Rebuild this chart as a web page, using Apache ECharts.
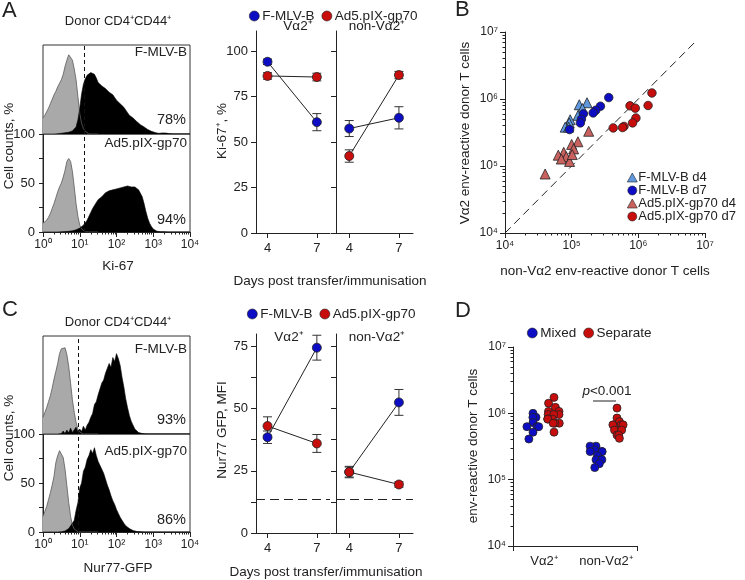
<!DOCTYPE html>
<html>
<head>
<meta charset="utf-8">
<script src="https://cdn.jsdelivr.net/npm/echarts@6/dist/echarts.min.js"></script>
<style>
  html, body { margin: 0; padding: 0; background: #fff; }
  #chart { width: 745px; height: 580px; }
</style>
</head>
<body>
<div id="chart"></div>
<script>
const FONT = 'Liberation Sans, Arial, Helvetica, sans-serif';

// ---- histograms: % of max, bins every 0.05 log10 units starting at 10^0 ----
const histStep = 0.05;
const kiTopGrey = [18,21,25,29,34,39,44,48,53,57,61,67,76,83,89,90,83,73,61,42,23,12,6,3,1,0,0,0,0,0,0];
const kiTopBlack = [0,0,0,0,0,0,0,0,0.3,0.5,0.8,1,1.3,1.6,2,2.6,3.5,5,8,16,29,45,56,62,66,65,69,70,67,63,
  58,57,54,53,51,50,47,45,44,41,38,37,34,32,30,27,24,21,20,18,16,14,12,10.5,9,8,6.5,5,4,3,
  2.4,1.6,1,0.7,0.6,1.2,1.8,1,0.4,0.2,0,0,0,0,0,0,0,0,0,0,0];
const kiBotGrey = [9,10,12,15,19,24,29,35,41,46,50,56,63,72,75,72,62,46,29,16,7,3,1,0.3,0,0,0,0,0,0,0];
const kiBotBlack = [0,0,0,0,0,0,0,0,0,0,0.2,0.3,0.4,0.5,0.7,0.9,1.2,1.6,2.2,3,4,5.5,7,9.5,12,16,20,24,27,30,
  33,35,36,38,40,39,42,41,43,42,44,42,45,43,46,44,47,45,46,44,46,44,43,42,36,29,21,14,9,5.5,
  3,1.5,0.8,0.5,0.3,0.2,0.2,0.1,0,0,0,0,0,0,0,0,0,0,0,0,0];
const nurTopGrey = [17,22,27,33,39,47,56,64,72,82,87,89,88,81,69,52,35,22,12,5,2,0.5,0,0,0,0,0,0,0,0,0];
const nurTopBlack = [0,0,0,0,0,0,0,0,0,0,0.5,3,0.5,4,1,6,1.5,3,7,2,5,2.5,8,4,9,12,17,21,30,33,
  40,42,52,55,62,64,72,68,78,74,82,77,70,58,48,36,27,19,13,9,5,3,1.5,1,0.5,0,0,0,0,0,
  0,0,0,0,0,0,0,0,0,0,0,0,0,0,0,0,0,0,0,0,0];
const nurBotGrey = [16,21,26,33,40,48,57,71,78,83,81,76,64,47,30,16,7,3,1,0.3,0,0,0,0,0,0,0,0,0,0,0];
const nurBotBlack = [0,0,0,0,0,0,0,0,0,0,0.3,0.6,1,2,3.5,5,9,12,22,30,45,50,62,66,74,78,84,80,86,78,
  72,70,64,60,54,48,43,37,32,28,23,19,15,12,9,6.5,5,3.5,2.5,1.5,1,0.6,0.4,0.3,0,0,0,0,0,0,
  0,0,0,0,0,0,0,0,0,0,0,0,0,0,0,0,0,0,0,0,0];
const kiCutoff = 13;
const nurCutoff = 9;

// ---- time courses (mean, SEM) at days 4 and 7 ----
const days = [4, 7];
const kiVaFmlv = [94.1, 60.9],  kiVaFmlvErr = [1.5, 4.7];
const kiVaAd5 = [86.3, 85.7],   kiVaAd5Err = [1.8, 2.1];
const kiNonFmlv = [57.4, 63.3], kiNonFmlvErr = [4.4, 6.1];
const kiNonAd5 = [42.3, 86.8],  kiNonAd5Err = [3.4, 2.0];
const nurVaFmlv = [38.5, 74.5], nurVaFmlvErr = [2.5, 5.0];
const nurVaAd5 = [43.0, 36.0],  nurVaAd5Err = [3.7, 3.6];
const nurNonFmlv = [24.5, 52.5], nurNonFmlvErr = [2.0, 5.2];
const nurNonAd5 = [24.5, 19.5], nurNonAd5Err = [2.3, 1.1];
const nurBaseline = 13.5;

// ---- panel B: [non-Va2, Va2] env-reactive donor T cells ----
const fmlvD4 = [[1.7e5,8.8e5],[1.3e5,8.2e5],[1.45e5,7.2e5],[1.25e5,5.7e5],[0.95e5,4.9e5],[0.92e5,4.4e5],[0.8e5,3.8e5],[0.9e5,3.8e5]];
const fmlvD7 = [[3.6e5,1.05e6],[2.7e5,7.8e5],[2.3e5,6.8e5],[2.1e5,6.2e5],[1.5e5,6.0e5],[1.4e5,5.0e5],[1.35e5,4.4e5],[0.93e5,3.5e5]];
const ad5D4 = [[1.8e5,3.3e5],[1.24e5,2.3e5],[1.0e5,2.1e5],[1.07e5,1.8e5],[7.6e4,1.6e5],[6.3e4,1.45e5],[8.3e4,1.38e5],[7.0e4,1.27e5],[9.3e4,1.17e5],[1.02e5,1.48e5],[4.0e4,7.6e4]];
const ad5D7 = [[1.6e6,1.23e6],[1.4e6,8.0e5],[7.5e5,7.9e5],[9.0e5,7.3e5],[9.2e5,5.2e5],[8.2e5,4.4e5],[6.1e5,3.9e5],[5.8e5,3.75e5],[4.2e5,3.7e5]];
const identity = [1e4, 7e6];

// ---- panel D ----
const dCats = ['Vα2⁺', 'non-Vα2⁺'];
const dSlots = ['Vα2⁺ Mixed', 'Vα2⁺ Separate', '', 'non-Vα2⁺ Mixed', 'non-Vα2⁺ Separate'];
const dVaMixed = [1.0e6, 8.7e5, 8.7e5, 7.3e5, 6.3e5, 6.3e5, 6.3e5, 5.2e5, 4.1e5];
const dVaSeparate = [1.74e6, 1.42e6, 1.23e6, 1.07e6, 1.07e6, 9.6e5, 9.6e5, 9.6e5, 8.2e5, 8.2e5, 8.2e5, 7.1e5, 7.1e5, 7.1e5, 5.2e5];
const dNonMixed = [3.2e5, 3.2e5, 2.8e5, 2.65e5, 2.65e5, 2.65e5, 2.3e5, 2.0e5, 2.0e5, 1.74e5, 1.52e5];
const dNonSeparate = [1.2e6, 8.5e5, 7.5e5, 6.7e5, 6.7e5, 6.7e5, 5.6e5, 5.6e5, 5.6e5, 4.7e5, 4.7e5, 4.2e5];

const BLUE = '#0d0dc4', RED = '#c80d0d', LBLUE = '#5f98dc', LRED = '#c9615f';
const INK = '#222';

const sup = ['⁰', '¹', '²', '³', '⁴', '⁵', '⁶', '⁷'];
const powLabel = v => '10' + sup[Math.round(Math.log10(v))];
function decadesFrom(a, b) { const o = []; for (let e = a; e <= b; e++) o.push(Math.pow(10, e)); return o; }
function minorFrom(a, b) { const o = []; for (let e = a; e < b; e++) for (let k = 2; k <= 9; k++) o.push(k * Math.pow(10, e)); return o; }

const lineSt = { color: INK, width: 1 };
const lab = (size) => ({ color: INK, fontFamily: FONT, fontSize: size });

const grids = [
  { left: 43, top: 45, width: 147, height: 89 },   // 0 A hist top
  { left: 43, top: 134, width: 147, height: 98 },  // 1 A hist bottom
  { left: 256, top: 31, width: 74, height: 202 },  // 2 A Va2
  { left: 336, top: 31, width: 77, height: 202 },  // 3 A non-Va2
  { left: 505, top: 32, width: 200, height: 201 }, // 4 B
  { left: 43, top: 336, width: 147, height: 98 },  // 5 C hist top
  { left: 43, top: 434, width: 147, height: 98 },  // 6 C hist bottom
  { left: 256, top: 334, width: 74, height: 199 }, // 7 C Va2
  { left: 336, top: 334, width: 77, height: 199 }, // 8 C non-Va2
  { left: 513, top: 347, width: 124, height: 199 },// 9 D axes
  { left: 522.5, top: 347, width: 105, height: 199 } // 10 D points
].map((g, i) => Object.assign({ containLabel: false }, g,
  (i === 0 || i === 1 || i === 5 || i === 6) ? { show: true, borderColor: '#333', borderWidth: 1 } : {}));

function logMajor(dim, gridIndex, a, b, extra) {
  const vals = decadesFrom(a, b);
  return Object.assign({
    type: 'log', logBase: 10, gridIndex, min: Math.pow(10, a), max: Math.pow(10, b),
    position: dim === 'x' ? 'bottom' : 'left',
    axisLine: { show: true, lineStyle: lineSt },
    axisTick: { show: true, length: 5, lineStyle: lineSt, customValues: vals },
    axisLabel: Object.assign(lab(12), { customValues: vals, formatter: powLabel, margin: 7 }),
    splitLine: { show: false }, minorTick: { show: false }
  }, extra || {});
}
function logMinor(dim, gridIndex, a, b) {
  return {
    type: 'log', logBase: 10, gridIndex, min: Math.pow(10, a), max: Math.pow(10, b),
    position: dim === 'x' ? 'bottom' : 'left',
    axisLine: { show: false },
    axisTick: { show: true, length: 2.5, lineStyle: lineSt, customValues: minorFrom(a, b) },
    axisLabel: { show: false }, splitLine: { show: false }
  };
}
function hidden(type, gridIndex, min, max) {
  return { type, gridIndex, min, max, show: false, logBase: 10 };
}
function dayAxis(gridIndex, min, max) {
  return {
    type: 'value', gridIndex, min, max, position: 'bottom',
    axisLine: { show: true, onZero: false, lineStyle: lineSt },
    axisTick: { show: true, length: 5, lineStyle: lineSt, customValues: days },
    axisLabel: Object.assign(lab(13), { customValues: days, margin: 9 }),
    splitLine: { show: false }
  };
}
function valAxis(gridIndex, max, ticks, labels, tickLen) {
  return {
    type: 'value', gridIndex, min: 0, max, position: 'left',
    axisLine: { show: true, lineStyle: lineSt },
    axisTick: { show: true, length: tickLen || 5, lineStyle: lineSt, customValues: ticks },
    axisLabel: labels ? Object.assign(lab(13), { customValues: labels, margin: 8 }) : { show: false },
    splitLine: { show: false }
  };
}

const xAxis = [
  hidden('log', 0, 1, 10000),                  // 0
  logMajor('x', 1, 0, 4),                      // 1
  logMinor('x', 1, 0, 4),                      // 2
  dayAxis(2, 3.3, 7.8),                        // 3
  dayAxis(3, 3.2, 7.85),                       // 4
  logMajor('x', 4, 4, 7),                      // 5
  logMinor('x', 4, 4, 7),                      // 6
  hidden('log', 5, 1, 10000),                  // 7
  logMajor('x', 6, 0, 4),                      // 8
  logMinor('x', 6, 0, 4),                      // 9
  dayAxis(7, 3.3, 7.8),                        // 10
  dayAxis(8, 3.2, 7.85),                       // 11
  { type: 'category', gridIndex: 9, data: dCats, position: 'bottom',
    axisLine: { show: true, lineStyle: lineSt },
    axisTick: { show: true, length: 5, lineStyle: lineSt, interval: (i) => i === 1 },
    axisLabel: Object.assign(lab(13), { margin: 9, interval: 0 }) },   // 12
  { type: 'category', gridIndex: 10, data: dSlots, show: false,
    jitter: 24, jitterOverlap: false, jitterMargin: 0 }  // 13
];
const yAxis = [
  hidden('value', 0, 0, 100),                                  // 0
  valAxis(1, 100, [0, 25, 50, 75, 100], [0, 50, 100], 4),      // 1
  valAxis(2, 111, [0, 25, 50, 75, 100], [0, 25, 50, 75, 100]), // 2
  valAxis(3, 111, [0, 25, 50, 75, 100], null),                 // 3
  logMajor('y', 4, 4, 7),                                      // 4
  logMinor('y', 4, 4, 7),                                      // 5
  hidden('value', 5, 0, 100),                                  // 6
  valAxis(6, 100, [0, 25, 50, 75, 100], [0, 50, 100], 4),      // 7
  valAxis(7, 80, [0, 12.5, 25, 37.5, 50, 62.5, 75], [0, 25, 50, 75]), // 8
  valAxis(8, 80, [0, 12.5, 25, 37.5, 50, 62.5, 75], null),     // 9
  logMajor('y', 9, 4, 7),                                      // 10
  logMinor('y', 9, 4, 7),                                      // 11
  hidden('log', 10, 1e4, 1e7)                                  // 12
];

const series = [];

function histSeries(vals, xi, yi, neg, cut) {
  const s = {
    type: 'line', xAxisIndex: xi, yAxisIndex: yi, silent: true, symbol: 'none',
    data: vals.map((v, i) => [Math.pow(10, i * histStep), v]),
    lineStyle: neg ? { color: '#5a5a5a', width: 0.8 } : { color: '#000', width: 0.6 },
    areaStyle: { color: neg ? '#a9a9a9' : '#000', opacity: 1 }
  };
  if (cut) {
    s.markLine = { silent: true, symbol: 'none', label: { show: false },
      lineStyle: { type: [4, 3], color: '#111', width: 1 }, data: [{ xAxis: cut }] };
  }
  return s;
}
series.push(histSeries(kiTopGrey, 0, 0, true), histSeries(kiTopBlack, 0, 0, false, kiCutoff));
series.push(histSeries(kiBotGrey, 1, 1, true), histSeries(kiBotBlack, 1, 1, false, kiCutoff));
series.push(histSeries(nurTopGrey, 7, 6, true), histSeries(nurTopBlack, 7, 6, false, nurCutoff));
series.push(histSeries(nurBotGrey, 8, 7, true), histSeries(nurBotBlack, 8, 7, false, nurCutoff));

function errRender(params, api) {
  const x = api.value(0);
  const lo = api.coord([x, api.value(1)]);
  const hi = api.coord([x, api.value(2)]);
  const w = 4.5;
  const st = { stroke: '#333', lineWidth: 1 };
  return { type: 'group', children: [
    { type: 'line', shape: { x1: lo[0], y1: lo[1], x2: hi[0], y2: hi[1] }, style: st },
    { type: 'line', shape: { x1: lo[0] - w, y1: lo[1], x2: lo[0] + w, y2: lo[1] }, style: st },
    { type: 'line', shape: { x1: hi[0] - w, y1: hi[1], x2: hi[0] + w, y2: hi[1] }, style: st }
  ] };
}
function course(name, color, means, errs, xi, yi, extra) {
  series.push({
    type: 'custom', name: name + ' SEM', xAxisIndex: xi, yAxisIndex: yi, z: 2, silent: true,
    renderItem: errRender, data: days.map((d, i) => [d, means[i] - errs[i], means[i] + errs[i]])
  });
  series.push(Object.assign({
    type: 'line', name, xAxisIndex: xi, yAxisIndex: yi, z: 3,
    data: days.map((d, i) => [d, means[i]]),
    symbol: 'circle', symbolSize: 9, showSymbol: true,
    itemStyle: { color, borderColor: INK, borderWidth: 0.8 },
    lineStyle: { color: INK, width: 1 }
  }, extra || {}));
}
course('F-MLV-B', BLUE, kiVaFmlv, kiVaFmlvErr, 3, 2);
course('Ad5.pIX-gp70', RED, kiVaAd5, kiVaAd5Err, 3, 2);
course('F-MLV-B', BLUE, kiNonFmlv, kiNonFmlvErr, 4, 3);
course('Ad5.pIX-gp70', RED, kiNonAd5, kiNonAd5Err, 4, 3);
const baseMark = { silent: true, symbol: 'none', label: { show: false },
  lineStyle: { type: [9, 5], color: INK, width: 1 }, data: [{ yAxis: nurBaseline }] };
course('F-MLV-B', BLUE, nurVaFmlv, nurVaFmlvErr, 10, 8, { markLine: baseMark });
course('Ad5.pIX-gp70', RED, nurVaAd5, nurVaAd5Err, 10, 8);
course('F-MLV-B', BLUE, nurNonFmlv, nurNonFmlvErr, 11, 9, { markLine: baseMark });
course('Ad5.pIX-gp70', RED, nurNonAd5, nurNonAd5Err, 11, 9);

// panel B
series.push({
  type: 'line', name: 'identity', xAxisIndex: 5, yAxisIndex: 4, silent: true, symbol: 'none', z: 1,
  data: identity.map(v => [v, v]), lineStyle: { color: INK, width: 1, type: [8, 5] }
});
function bScatter(name, data, symbol, color, size) {
  series.push({
    type: 'scatter', name, xAxisIndex: 5, yAxisIndex: 4, data, symbol, symbolSize: size, z: 3,
    itemStyle: { color, borderColor: INK, borderWidth: 0.8, opacity: 1 }
  });
}
bScatter('F-MLV-B d4', fmlvD4, 'triangle', LBLUE, 10);
bScatter('F-MLV-B d7', fmlvD7, 'circle', BLUE, 8.5);
bScatter('Ad5.pIX-gp70 d4', ad5D4, 'triangle', LRED, 10);
bScatter('Ad5.pIX-gp70 d7', ad5D7, 'circle', RED, 8.5);

// panel D
function dScatter(name, slot, vals, color) {
  series.push({
    type: 'scatter', name, xAxisIndex: 13, yAxisIndex: 12, z: 3,
    data: vals.map(v => [slot, v]), symbol: 'circle', symbolSize: 8,
    itemStyle: { color, borderColor: INK, borderWidth: 0.8, opacity: 1 }
  });
}
dScatter('Mixed', dSlots[0], dVaMixed, BLUE);
dScatter('Separate', dSlots[1], dVaSeparate, RED);
dScatter('Mixed', dSlots[3], dNonMixed, BLUE);
dScatter('Separate', dSlots[4], dNonSeparate, RED);

const iconStyle = { borderColor: INK, borderWidth: 0.6 };
const legendBase = {
  icon: 'circle', itemWidth: 10, itemHeight: 10, itemGap: 7, selectedMode: false,
  itemStyle: iconStyle,
  textStyle: Object.assign(lab(13.5), { padding: [0, 0, 0, -2] })
};
const legend = [
  Object.assign({}, legendBase, { left: 244, top: 4, data: ['F-MLV-B', 'Ad5.pIX-gp70'] }),
  Object.assign({}, legendBase, { left: 242, top: 302, data: ['F-MLV-B', 'Ad5.pIX-gp70'] }),
  Object.assign({}, legendBase, { left: 522, top: 321, data: ['Mixed', 'Separate'] }),
  { orient: 'vertical', left: 622, top: 166, itemWidth: 10, itemHeight: 9, itemGap: 0,
    selectedMode: false, itemStyle: iconStyle,
    textStyle: Object.assign(lab(13), { padding: [0, 0, 0, -4] }),
    data: [
      { name: 'F-MLV-B d4', icon: 'triangle' }, { name: 'F-MLV-B d7', icon: 'circle' },
      { name: 'Ad5.pIX-gp70 d4', icon: 'triangle' }, { name: 'Ad5.pIX-gp70 d7', icon: 'circle' }
    ] }
];

function txt(x, y, text, size, opt) {
  opt = opt || {};
  return {
    type: 'text', x, y, rotation: opt.rot || 0, silent: true, z: 10,
    style: {
      text, fill: INK, fontSize: size, fontFamily: FONT,
      fontStyle: opt.italic ? 'italic' : 'normal',
      align: opt.align || 'center', verticalAlign: 'middle', rich: opt.rich
    }
  };
}
const R90 = Math.PI / 2;
const graphic = [
  txt(2, 11, 'A', 22, { align: 'left' }),
  txt(455, 10, 'B', 22, { align: 'left' }),
  txt(2, 310, 'C', 22, { align: 'left' }),
  txt(455, 311, 'D', 22, { align: 'left' }),
  txt(118, 21, 'Donor CD4⁺CD44⁺', 13),
  txt(118, 322, 'Donor CD4⁺CD44⁺', 13),
  txt(187, 52, 'F-MLV-B', 13.5, { align: 'right' }),
  txt(186, 120, '78%', 14.5, { align: 'right' }),
  txt(187, 143, 'Ad5.pIX-gp70', 13.5, { align: 'right' }),
  txt(186, 220, '94%', 14.5, { align: 'right' }),
  txt(187, 349, 'F-MLV-B', 13.5, { align: 'right' }),
  txt(186, 420, '93%', 14.5, { align: 'right' }),
  txt(187, 451, 'Ad5.pIX-gp70', 13.5, { align: 'right' }),
  txt(186, 520, '86%', 14.5, { align: 'right' }),
  txt(9, 146, 'Cell counts, %', 13.5, { rot: R90 }),
  txt(9, 438, 'Cell counts, %', 13.5, { rot: R90 }),
  txt(118, 266, 'Ki-67', 13.5),
  txt(118, 568, 'Nur77-GFP', 13.5),
  txt(298, 26, 'Vα2⁺', 13.5),
  txt(377, 26, 'non-Vα2⁺', 13.5),
  txt(289, 337, 'Vα2⁺', 13.5),
  txt(377, 337, 'non-Vα2⁺', 13.5),
  txt(222, 131, 'Ki-67⁺, %', 13.5, { rot: R90 }),
  txt(222, 430, 'Nur77 GFP, MFI', 13.5, { rot: R90 }),
  txt(330, 281, 'Days post transfer/immunisation', 13.5),
  txt(326, 572, 'Days post transfer/immunisation', 13.5),
  txt(465, 133, 'Vα2 env-reactive donor T cells', 13.5, { rot: R90 }),
  txt(605, 271, 'non-Vα2 env-reactive donor T cells', 13.5),
  txt(473, 446, 'env-reactive donor T cells', 13.5, { rot: R90 }),
  txt(607, 391, '{i|p}<0.001', 13.5, { rich: { i: { fontStyle: 'italic', fontSize: 13.5, fontFamily: FONT, fill: INK } } }),
  { type: 'line', silent: true, z: 10, shape: { x1: 593, y1: 401, x2: 616, y2: 401 },
    style: { stroke: INK, lineWidth: 1 } }
];

const chart = echarts.init(document.getElementById('chart'));
chart.setOption({
  animation: false,
  backgroundColor: '#fff',
  textStyle: { fontFamily: FONT },
  grid: grids, xAxis, yAxis, series, legend, graphic
});
</script>
</body>
</html>
